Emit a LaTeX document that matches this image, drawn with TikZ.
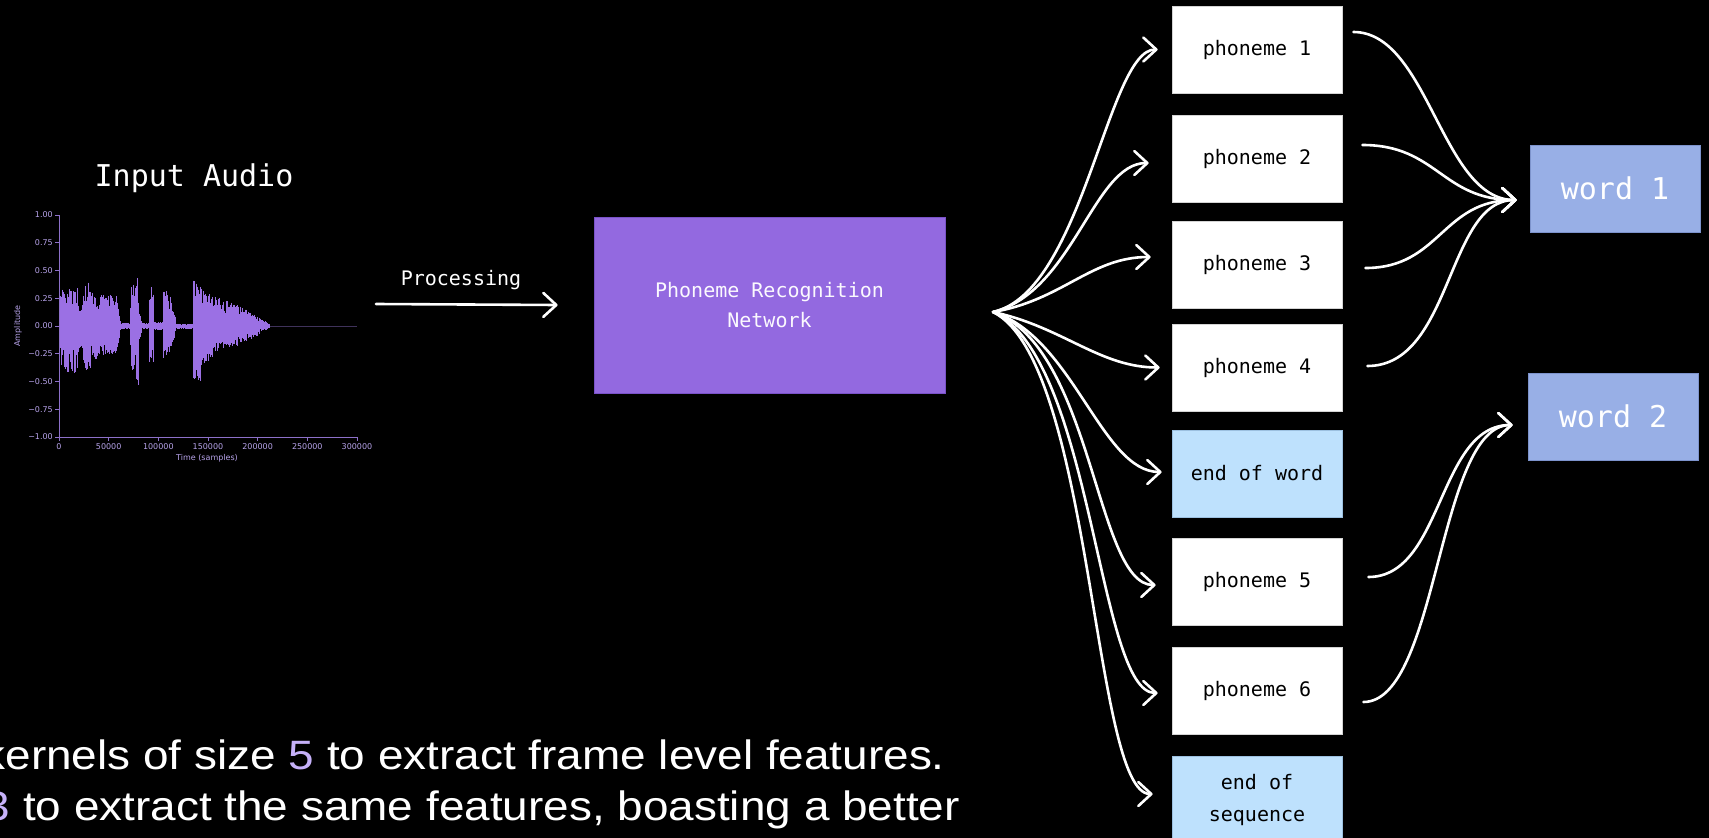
\documentclass[tikz,border=0pt]{standalone}
\usepackage{fontspec}
\setmonofont{DejaVu Sans Mono}
\newfontfamily\plotfont{DejaVu Sans}
\newfontfamily\bodyfont[FakeStretch=1.12]{Liberation Sans}
\usetikzlibrary{arrows.meta}

\definecolor{netpurple}{HTML}{9369E0}
\definecolor{netedge}{HTML}{7A52C8}
\definecolor{wordblue}{HTML}{98AFE6}
\definecolor{wordedge}{HTML}{7D93CC}
\definecolor{endblue}{HTML}{BEE1FD}
\definecolor{endedge}{HTML}{9CC0E0}
\definecolor{boxedge}{HTML}{D4D4D4}
\definecolor{wavecol}{HTML}{9B70E4}
\definecolor{axiscol}{HTML}{8D70C9}
\definecolor{ticktext}{HTML}{B7A3EA}
\definecolor{accent}{HTML}{C6B1F9}

\tikzset{
  mono/.style={font=\ttfamily\fontsize{20}{24}\selectfont},
  bigmono/.style={font=\ttfamily\fontsize{30}{36}\selectfont},
  phonebox/.style={mono, draw=boxedge, line width=0.8pt, fill=white, text=black,
    minimum width=170pt, minimum height=87pt, inner sep=0pt, align=center},
  endbox/.style={phonebox, fill=endblue, draw=endedge,
    font=\ttfamily\fontsize{20}{32}\selectfont},
  wordbox/.style={bigmono, draw=wordedge, line width=0.8pt, fill=wordblue, text=white,
    minimum width=170pt, minimum height=87pt, inner sep=0pt},
  netbox/.style={draw=netedge, line width=0.8pt, fill=netpurple, text=white!96!netpurple,
    minimum width=351pt, minimum height=176pt, align=center,
    font=\ttfamily\fontsize{20}{30}\selectfont},
  flow/.style={draw=white, line width=2.6pt, line cap=round,
    -{Straight Barb[length=13pt,width=24pt,round]}},
  axis/.style={draw=axiscol, line width=0.9pt},
  ticklabel/.style={font=\plotfont\fontsize{8}{9}\selectfont, text=ticktext, inner sep=0pt},
  wave/.style={draw=wavecol, line width=0.9pt},
  bodytext/.style={font=\bodyfont\fontsize{41}{50}\selectfont, text=white, inner sep=0pt}
}

\begin{document}
\begin{tikzpicture}[x=1pt,y=-1pt]
  % canvas
  \fill[black] (0,0) rectangle (1709,838);
  \useasboundingbox (0,0) rectangle (1709,838);

  % ---------------- input audio plot ----------------
  \node[bigmono, text=white] (title) at (194,178) {Input Audio};

  % zero line
  \draw[draw=axiscol!45!black, line width=0.6pt] (59,326) -- (357,326);

  % waveform: random spikes under a piecewise linear envelope (half-kilo-sample columns)
  \pgfmathsetseed{17}
  \foreach \ks/\ke/\ps/\pe/\ns/\ne in {
      0/20/0.36/0.34/0.40/0.44,
      20/24/0.16/0.16/0.20/0.20,
      24/30/0.32/0.42/0.36/0.42,
      30/40/0.40/0.24/0.40/0.28,
      40/58/0.28/0.28/0.28/0.26,
      58/62/0.24/0.04/0.24/0.04,
      62/72/0.03/0.03/0.03/0.03,
      72/80/0.34/0.47/0.36/0.58,
      80/84/0.20/0.04/0.20/0.04,
      84/91/0.03/0.03/0.03/0.03,
      91/96/0.40/0.30/0.38/0.34,
      96/105/0.04/0.04/0.04/0.04,
      105/112/0.37/0.30/0.30/0.26,
      112/118/0.28/0.08/0.22/0.06,
      118/135/0.02/0.02/0.03/0.03,
      135/143/0.42/0.36/0.48/0.56,
      143/160/0.34/0.26/0.36/0.26,
      160/180/0.27/0.19/0.26/0.18,
      180/200/0.19/0.10/0.17/0.10,
      200/212/0.08/0.02/0.08/0.02}{
    \pgfmathtruncatemacro{\kl}{2*\ke-1}
    \pgfmathtruncatemacro{\kf}{2*\ks}
    \foreach \h in {\kf,...,\kl}{
      \pgfmathsetmacro{\fr}{(\h/2-\ks)/(\ke-\ks)}
      \pgfmathsetmacro{\up}{(\ps+(\pe-\ps)*\fr)*(0.45+0.55*rnd)*111}
      \pgfmathsetmacro{\dn}{(\ns+(\ne-\ns)*\fr)*(0.45+0.55*rnd)*111}
      \pgfmathsetmacro{\xx}{59+0.9933*\h/2}
      \draw[wave] (\xx,326-\up) -- (\xx,326+\dn);
    }
  }

  % axes
  \draw[axis] (59,215) -- (59,437) -- (357,437);
  \foreach \v/\lab [count=\i from 0] in {1.00/1.00,0.75/0.75,0.50/0.50,0.25/0.25,0.00/0.00,
      -0.25/−0.25,-0.50/−0.50,-0.75/−0.75,-1.00/−1.00}{
    \pgfmathsetmacro{\yy}{326-111*\v}
    \draw[axis] (55,\yy) -- (59,\yy);
    \node[ticklabel, anchor=east] (yt\i) at (53,\yy) {\lab};
  }
  \foreach \s/\lab [count=\i from 0] in {0/0,50/50000,100/100000,150/150000,
      200/200000,250/250000,300/300000}{
    \pgfmathsetmacro{\xx}{59+0.9933*\s}
    \draw[axis] (\xx,437) -- (\xx,441);
    \node[ticklabel] (xt\i) at (\xx,447) {\lab};
  }
  \node[ticklabel] (xlab) at (207,458) {Time (samples)};
  \node[ticklabel, rotate=90] (ylab) at (18,326) {Amplitude};

  % ---------------- processing ----------------
  \node[mono, text=white] (proclabel) at (461,280) {Processing};
  \node[netbox] (net) at (769.5,305) {Phoneme Recognition\\Network};
  \coordinate (audioout) at (376,304);
  \draw[flow] (audioout) -- ([xshift=-36pt]net.west);

  % ---------------- phoneme column ----------------
  \node[phonebox] (p1) at (1257,49.5) {phoneme 1};
  \node[phonebox] (p2) at (1257,158.5) {phoneme 2};
  \node[phonebox] (p3) at (1257,264.5) {phoneme 3};
  \node[phonebox] (p4) at (1257,367.5) {phoneme 4};
  \node[endbox]   (eow) at (1257,473.5) {end of word};
  \node[phonebox] (p5) at (1257,581.5) {phoneme 5};
  \node[phonebox] (p6) at (1257,690.5) {phoneme 6};
  \node[endbox]   (eos) at (1257,799.5) {end of\\sequence};

  % ---------------- words ----------------
  \node[wordbox] (w1) at (1615,188.5) {word 1};
  \node[wordbox] (w2) at (1613,416.5) {word 2};

  % fan out from the network
  \coordinate (fan) at (993,312);
  \draw[flow] (fan) .. controls +(90,-20) and +(-50,0) .. ([xshift=-14pt]p1.west);
  \draw[flow] (fan) .. controls +(80,-20) and +(-55,0) .. ([xshift=-23pt,yshift=-4.5pt]p2.west);
  \draw[flow] (fan) .. controls +(70,-12) and +(-60,0) .. ([xshift=-21pt,yshift=7.5pt]p3.west);
  \draw[flow] (fan) .. controls +(70,15) and +(-60,0) .. ([xshift=-12pt]p4.west);
  \draw[flow] (fan) .. controls +(80,25) and +(-60,0) .. ([xshift=-10pt,yshift=1.5pt]eow.west);
  \draw[flow] (fan) .. controls +(100,35) and +(-60,0) .. ([xshift=-16pt,yshift=-3.5pt]p5.west);
  \draw[flow] (fan) .. controls +(100,45) and +(-60,0) .. ([xshift=-14pt,yshift=-2.5pt]p6.west);
  \draw[flow] (fan) .. controls +(100,50) and +(-60,0) .. ([xshift=-19pt,yshift=5.5pt]eos.west);

  % phonemes gathered into words
  \coordinate (w1in) at ([xshift=-13pt,yshift=-11.5pt]w1.west);
  \coordinate (w2in) at ([xshift=-15pt,yshift=-8.5pt]w2.west);
  \draw[flow] ([xshift=11pt,yshift=17.5pt]p1.east) .. controls +(75,0) and +(-75,0) .. (w1in);
  \draw[flow] ([xshift=20pt,yshift=13.5pt]p2.east) .. controls +(75,0) and +(-75,0) .. (w1in);
  \draw[flow] ([xshift=23pt,yshift=-3.5pt]p3.east) .. controls +(75,0) and +(-75,0) .. (w1in);
  \draw[flow] ([xshift=25pt,yshift=1.5pt]p4.east) .. controls +(85,0) and +(-70,0) .. (w1in);
  \draw[flow] ([xshift=26pt,yshift=4.5pt]p5.east) .. controls +(75,0) and +(-75,0) .. (w2in);
  \draw[flow] ([xshift=21pt,yshift=-11.5pt]p6.east) .. controls +(75,0) and +(-75,0) .. (w2in);

  % ---------------- caption text ----------------
  \node[bodytext, anchor=base east] (line1) at (945,769)
    {kernels of size \textcolor{accent}{5} to extract frame level features.};
  \node[bodytext, anchor=base east] (line2) at (960,820)
    {\textcolor{accent}{3} to extract the same features, boasting a better};
\end{tikzpicture}
\end{document}
